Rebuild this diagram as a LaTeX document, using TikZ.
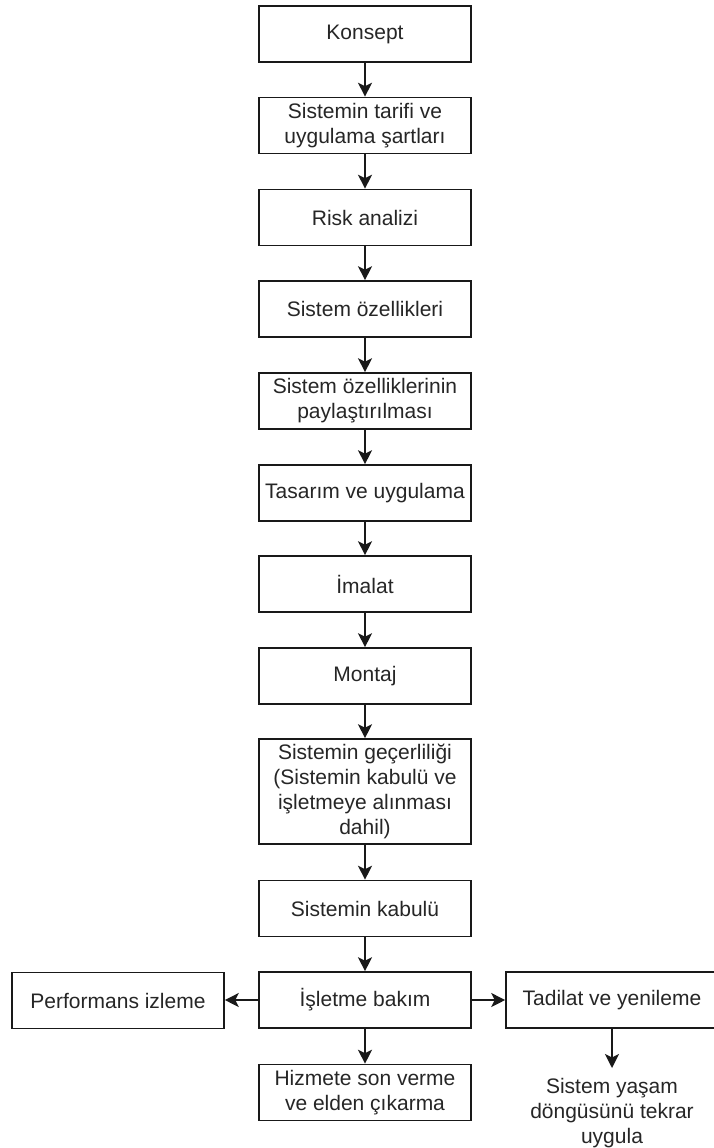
\documentclass[tikz,border=0pt]{standalone}
\usepackage{fontspec}
\setmainfont{Liberation Sans}
\usetikzlibrary{arrows.meta}
\tikzset{
  stage/.style={draw=black!90, line width=1.6pt, fill=white, rectangle,
    minimum width=212pt, minimum height=56pt, inner sep=0pt, align=center,
    text=black!85, font=\fontsize{21}{25}\selectfont},
  note/.style={inner sep=0pt, align=center, text=black!85,
    font=\fontsize{21}{25}\selectfont},
  flow/.style={draw=black!90, line width=1.6pt,
    -{Stealth[length=14pt, width=14pt, inset=3.5pt]}}
}
\begin{document}
\begin{tikzpicture}[x=1pt, y=-1pt]
  \useasboundingbox (0,0) rectangle (714,1148);

  % main column of stages
  \node[stage] (konsept) at (365,34) {Konsept};
  \node[stage] (tarif) at (365,125.5) {Sistemin tarifi ve\\uygulama şartları};
  \node[stage] (risk) at (365,217.5) {Risk analizi};
  \node[stage] (ozellik) at (365,309) {Sistem özellikleri};
  \node[stage] (paylas) at (365,401) {Sistem özelliklerinin\\paylaştırılması};
  \node[stage] (tasarim) at (365,493) {Tasarım ve uygulama};
  \node[stage] (imalat) at (365,584) {İmalat};
  \node[stage] (montaj) at (365,676) {Montaj};
  \node[stage, minimum height=105pt] (gecer) at (365,791.5)
    {Sistemin geçerliliği\\(Sistemin kabulü ve\\işletmeye alınması\\dahil)};
  \node[stage] (kabul) at (365,908.5) {Sistemin kabulü};
  \node[stage] (isletme) at (365,1000) {İşletme bakım};
  \node[stage] (hizmet) at (365,1092.5) {Hizmete son verme\\ve elden çıkarma};

  % side branches
  \node[stage] (perf) at (118,1000.5) {Performans izleme};
  \node[stage] (tadilat) at (612,1000) {Tadilat ve yenileme};
  \node[note, anchor=north] (tekrar) at (612,1078) {Sistem yaşam\\döngüsünü tekrar\\uygula};
  \coordinate (tekrartop) at (612,1068);

  % connectors
  \draw[flow] (konsept) -- (tarif);
  \draw[flow] (tarif) -- (risk);
  \draw[flow] (risk) -- (ozellik);
  \draw[flow] (ozellik) -- (paylas);
  \draw[flow] (paylas) -- (tasarim);
  \draw[flow] (tasarim) -- (imalat);
  \draw[flow] (imalat) -- (montaj);
  \draw[flow] (montaj) -- (gecer);
  \draw[flow] (gecer) -- (kabul);
  \draw[flow] (kabul) -- (isletme);
  \draw[flow] (isletme) -- (hizmet);
  \draw[flow] (isletme.west) -- (perf.east |- isletme.west);
  \draw[flow] (isletme.east) -- (tadilat.west);
  \draw[flow] (tadilat.south) -- (tekrartop);
\end{tikzpicture}
\end{document}
